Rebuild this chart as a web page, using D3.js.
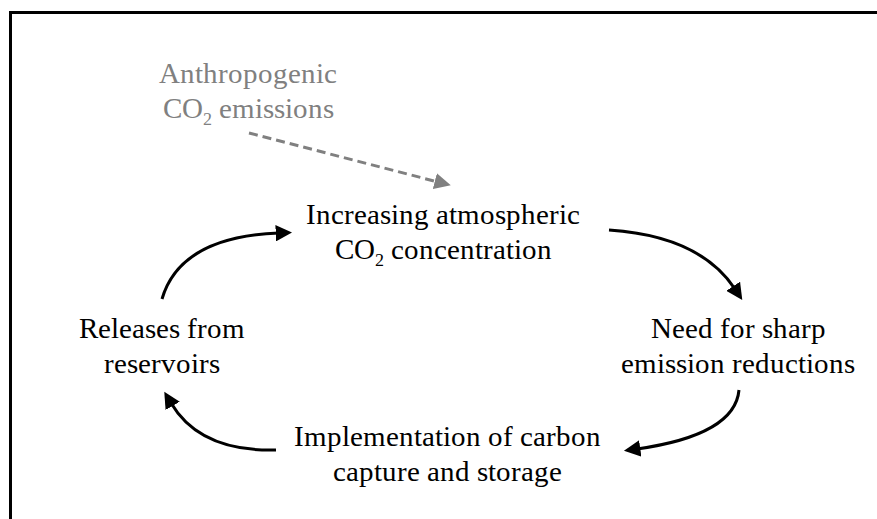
<!DOCTYPE html>
<html>
<head>
<meta charset="utf-8">
<script src="https://cdn.jsdelivr.net/npm/d3@7"></script>
<style>
  @font-face {
    font-family: "ChartSerif";
    src: local("Liberation Serif"), local("LiberationSerif"), local("LiberationSerif-Regular"),
         local("Tinos"), local("Tinos-Regular"), local("Times New Roman"), local("FreeSerif"),
         local("Nimbus Roman"), local("NimbusRoman-Regular");
  }
  body { margin: 0; background: #fff; }
</style>
</head>
<body>
<div id="chart"></div>
<script>
// cycle stages (two lines each, "CO2" gets a subscript)
var stageNames = ["increase", "reduce", "ccs", "release"];
var stageLine1 = ["Increasing atmospheric", "Need for sharp", "Implementation of carbon", "Releases from"];
var stageLine2 = ["CO2 concentration", "emission reductions", "capture and storage", "reservoirs"];
var sourceLines = ["Anthropogenic", "CO2 emissions"];
// arrows go from stage i to stage i+1
var links = [["release", "increase"], ["increase", "reduce"], ["reduce", "ccs"], ["ccs", "release"]];

var width = 877, height = 519;
var serif = "ChartSerif, 'Liberation Serif', Tinos, FreeSerif, 'Nimbus Roman', 'Noto Serif', 'DejaVu Serif'";

var svg = d3.select("#chart").append("svg")
    .attr("width", width)
    .attr("height", height);

// frame: only top and left edges show
svg.append("path")
    .attr("d", "M10.5," + height + "V12.5H" + width)
    .attr("fill", "none")
    .attr("stroke", "#000")
    .attr("stroke-width", 3);

var defs = svg.append("defs");
function marker(id, color) {
  defs.append("marker")
      .attr("id", id)
      .attr("viewBox", "0 0 10 10")
      .attr("refX", 2)
      .attr("refY", 5)
      .attr("markerWidth", 5.5)
      .attr("markerHeight", 5.5)
      .attr("markerUnits", "strokeWidth")
      .attr("orient", "auto")
    .append("path")
      .attr("d", "M0,0L10,5L0,10Z")
      .attr("fill", color);
}
marker("head", "#000");
marker("headGray", "#808080");

// label anchors (centre x, first baseline)
var pos = {
  increase: [443, 224],
  reduce: [738, 338],
  ccs: [447, 446],
  release: [162, 338]
};
// arrow ends: start, control, tip
var arrowGeom = {
  "release-increase": [[162, 299], [180, 237], [279, 233]],
  "increase-reduce": [[609, 230], [700, 236], [735, 289]],
  "reduce-ccs": [[739, 390], [735, 435], [637, 449]],
  "ccs-release": [[276, 450], [200, 452], [171, 403]]
};

var lineGap = 35;
var fontSize = 29;

function addLine(g, str, x, y, color) {
  var t = g.append("text")
      .attr("x", x)
      .attr("y", y)
      .attr("text-anchor", "middle")
      .style("font-family", serif)
      .style("font-size", fontSize + "px")
      .style("fill", color);
  var parts = str.split("CO2");
  if (parts.length === 1) { t.text(str); return; }
  t.append("tspan").text(parts[0] + "CO");
  t.append("tspan").style("font-size", Math.round(fontSize * 0.62) + "px").attr("dy", 7).text("2");
  t.append("tspan").attr("dy", -7).text(parts[1]);
}

var labels = svg.append("g");
stageNames.forEach(function(name, i) {
  addLine(labels, stageLine1[i], pos[name][0], pos[name][1], "#000");
  addLine(labels, stageLine2[i], pos[name][0], pos[name][1] + lineGap, "#000");
});

// external source
sourceLines.forEach(function(s, i) {
  addLine(labels, s, 248, 83 + i * lineGap, "#808080");
});

svg.append("g").selectAll("path")
    .data(links)
  .enter().append("path")
    .attr("d", function(d) {
      var p = arrowGeom[d[0] + "-" + d[1]];
      var path = d3.path();
      path.moveTo(p[0][0], p[0][1]);
      path.quadraticCurveTo(p[1][0], p[1][1], p[2][0], p[2][1]);
      return path.toString();
    })
    .attr("fill", "none")
    .attr("stroke", "#000")
    .attr("stroke-width", 3)
    .attr("marker-end", "url(#head)");

// dashed arrow from the source
svg.append("path")
    .attr("d", d3.line()([[249, 133], [438, 182]]))
    .attr("fill", "none")
    .attr("stroke", "#808080")
    .attr("stroke-width", 3)
    .attr("stroke-dasharray", "9,5")
    .attr("marker-end", "url(#headGray)");
</script>
</body>
</html>
